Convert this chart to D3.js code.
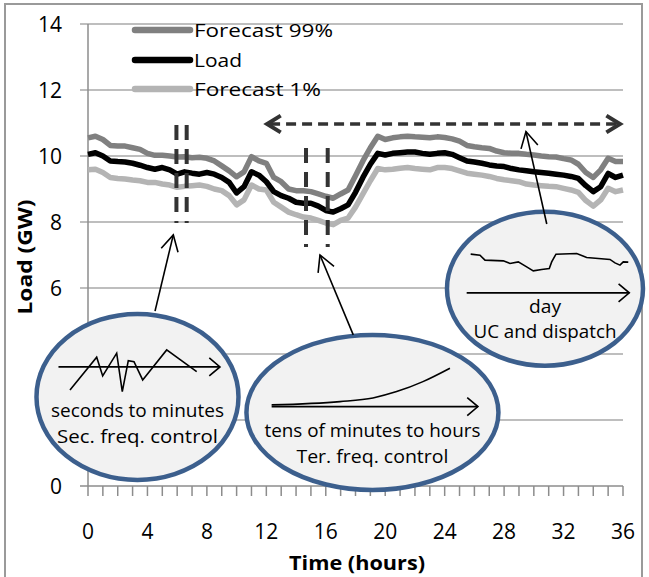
<!DOCTYPE html>
<html>
<head>
<meta charset="utf-8">
<script src="https://cdn.jsdelivr.net/npm/d3@7/dist/d3.min.js"></script>
<style>
  body { margin: 0; background: #fff; }
  svg { display: block; }
  text { font-family: "Open Sans", Lato, sans-serif; fill: #000; }
</style>
</head>
<body>
<div id="chart"></div>
<script>
// time axis (hours) and the three curves, GW
var hours = [0,0.5,1,1.5,2,2.5,3,3.5,4,4.5,5,5.5,6,6.5,7,7.5,8,8.5,9,9.5,
  10,10.5,11,11.5,12,12.5,13,13.5,14,14.5,15,15.5,16,16.5,17,17.5,18,18.5,19,19.5,
  20,20.5,21,21.5,22,22.5,23,23.5,24,24.5,25,25.5,26,26.5,27,27.5,28,28.5,29,29.5,
  30,30.5,31,31.5,32,32.5,33,33.5,34,34.5,35,35.5,36];
var load = [10.05,10.10,10.00,9.85,9.83,9.82,9.78,9.72,9.65,9.60,9.65,9.58,9.45,9.52,9.48,9.45,9.50,9.45,9.35,9.20,
  8.88,9.07,9.52,9.42,9.22,8.92,8.80,8.72,8.60,8.57,8.57,8.48,8.35,8.30,8.40,8.52,8.90,9.35,9.75,10.08,
  10.03,10.08,10.10,10.12,10.12,10.08,10.05,10.08,10.10,10.05,9.95,9.85,9.82,9.78,9.73,9.70,9.68,9.62,9.58,9.55,
  9.52,9.50,9.48,9.45,9.42,9.38,9.32,9.10,8.92,9.07,9.47,9.35,9.42];
var forecast99 = [10.55,10.60,10.50,10.32,10.30,10.30,10.25,10.20,10.08,10.02,10.02,10.00,9.97,9.98,9.95,9.96,9.93,9.85,9.70,9.55,
  9.37,9.52,9.98,9.85,9.78,9.35,9.22,9.00,8.95,8.95,8.92,8.85,8.78,8.72,8.85,8.97,9.40,9.85,10.25,10.60,
  10.50,10.55,10.58,10.60,10.58,10.57,10.55,10.58,10.56,10.52,10.45,10.32,10.28,10.25,10.23,10.15,10.10,10.08,10.08,10.05,
  10.03,10.00,9.98,9.97,9.92,9.88,9.75,9.50,9.35,9.58,9.93,9.83,9.83];
var forecast1 = [9.58,9.60,9.50,9.35,9.32,9.30,9.27,9.25,9.20,9.20,9.15,9.12,9.05,9.08,9.10,9.12,9.08,9.00,8.95,8.80,
  8.52,8.67,9.12,9.00,8.97,8.60,8.45,8.30,8.22,8.15,8.12,8.05,7.97,7.92,8.05,8.12,8.45,8.85,9.25,9.62,
  9.58,9.60,9.63,9.65,9.62,9.60,9.58,9.65,9.65,9.62,9.55,9.48,9.45,9.42,9.38,9.32,9.28,9.25,9.22,9.15,
  9.12,9.10,9.08,9.07,9.02,8.97,8.90,8.65,8.48,8.67,9.02,8.92,8.97];

var yTicks = [0, 2, 4, 6, 8, 10, 12, 14];
var yLabels = [0, 6, 8, 10, 12, 14];   // 2 and 4 sit under the bubble
var xLabels = [0, 4, 8, 12, 16, 20, 24, 28, 32, 36];
var hourTicks = d3.range(0, 37, 1);

var seriesNames = ["Forecast 99%", "Load", "Forecast 1%"];
var seriesValues = [forecast99, load, forecast1];
var seriesColors = ["#808080", "#000000", "#b4b4b4"];
var legendWidths = [139, 48, 127];

var W = 649, H = 577;
var x = d3.scaleLinear().domain([0, 36]).range([88, 623]);
var y = d3.scaleLinear().domain([0, 14]).range([486, 24]);

var svg = d3.select("#chart").append("svg")
  .attr("width", W)
  .attr("height", H);

// outer frame
svg.append("rect")
  .attr("x", 5).attr("y", 4)
  .attr("width", 637).attr("height", 590)
  .attr("fill", "#fff")
  .attr("stroke", "#9a9a9a")
  .attr("stroke-width", 2);

// gridlines + y ticks
svg.selectAll(".grid")
  .data(yTicks)
  .enter().append("line")
  .attr("x1", 80).attr("x2", x(36))
  .attr("y1", d => y(d)).attr("y2", d => y(d))
  .attr("stroke", d => d === 0 ? "#8c8c8c" : "#a8a8a8")
  .attr("stroke-width", 1.5);

svg.append("line")
  .attr("x1", x(0)).attr("x2", x(0))
  .attr("y1", y(14)).attr("y2", y(0))
  .attr("stroke", "#8c8c8c")
  .attr("stroke-width", 1.5);

svg.selectAll(".htick")
  .data(hourTicks)
  .enter().append("line")
  .attr("x1", d => x(d)).attr("x2", d => x(d))
  .attr("y1", y(0)).attr("y2", y(0) + 10)
  .attr("stroke", "#8c8c8c")
  .attr("stroke-width", 1.5);

svg.selectAll(".ylab")
  .data(yLabels)
  .enter().append("text")
  .attr("x", 62)
  .attr("y", d => y(d) + 7.5)
  .attr("text-anchor", "end")
  .style("font-size", "21px")
  .text(d => d);

svg.selectAll(".xlab")
  .data(xLabels)
  .enter().append("text")
  .attr("x", d => x(d))
  .attr("y", 538.5)
  .attr("text-anchor", "middle")
  .style("font-size", "21px")
  .text(d => d);

svg.append("text")
  .attr("x", 357).attr("y", 570)
  .attr("text-anchor", "middle")
  .attr("textLength", 136)
  .attr("lengthAdjust", "spacingAndGlyphs")
  .style("font-size", "19px")
  .style("font-weight", "bold")
  .text("Time (hours)");

svg.append("text")
  .attr("transform", "translate(32,257) rotate(-90)")
  .attr("text-anchor", "middle")
  .attr("textLength", 115)
  .attr("lengthAdjust", "spacingAndGlyphs")
  .style("font-size", "19px")
  .style("font-weight", "bold")
  .text("Load (GW)");

// the three curves
var line = d3.line()
  .x((d, i) => x(hours[i]))
  .y(d => y(d));

[0, 2, 1].forEach(function(k) {
  svg.append("path")
    .datum(seriesValues[k])
    .attr("d", line)
    .attr("fill", "none")
    .attr("stroke", seriesColors[k])
    .attr("stroke-width", 5.5)
    .attr("stroke-linejoin", "round");
});

// legend
var legend = svg.selectAll(".leg")
  .data(seriesNames)
  .enter().append("g")
  .attr("transform", (d, i) => "translate(0," + [30, 60, 89][i] + ")");
legend.append("line")
  .attr("x1", 135).attr("x2", 190)
  .attr("stroke", (d, i) => seriesColors[i])
  .attr("stroke-width", 6.5)
  .attr("stroke-linecap", "round");
legend.append("text")
  .attr("x", 194).attr("y", 6.5)
  .attr("textLength", (d, i) => legendWidths[i])
  .attr("lengthAdjust", "spacingAndGlyphs")
  .style("font-size", "19px")
  .text(d => d);

// dashed markers: pairs of vertical lines (time, top GW, bottom GW)
var dashPairs = [
  [5.95, 10.94, 7.97], [6.64, 10.94, 7.97],
  [14.67, 10.24, 7.24], [16.13, 10.24, 7.24]
];
svg.selectAll(".vdash")
  .data(dashPairs)
  .enter().append("line")
  .attr("x1", d => x(d[0])).attr("x2", d => x(d[0]))
  .attr("y1", d => y(d[1])).attr("y2", d => y(d[2]))
  .attr("stroke", "#333")
  .attr("stroke-width", 4)
  .attr("stroke-dasharray", "15,9");

function chevron(g, tx, ty, ang, len, spread, w, col) {
  var a1 = ang + Math.PI - spread, a2 = ang + Math.PI + spread;
  g.append("path")
    .attr("d", "M" + (tx + len * Math.cos(a1)) + "," + (ty + len * Math.sin(a1)) +
      "L" + tx + "," + ty +
      "L" + (tx + len * Math.cos(a2)) + "," + (ty + len * Math.sin(a2)))
    .attr("fill", "none")
    .attr("stroke", col)
    .attr("stroke-width", w)
    .attr("stroke-linecap", "butt")
    .attr("stroke-linejoin", "miter");
}

// double-headed dashed arrow for "day"
var dayArrow = [12.05, 35.8, 10.97];
svg.append("line")
  .attr("x1", x(dayArrow[0]) + 3).attr("x2", x(dayArrow[1]) - 3)
  .attr("y1", y(dayArrow[2])).attr("y2", y(dayArrow[2]))
  .attr("stroke", "#333")
  .attr("stroke-width", 3.5)
  .attr("stroke-dasharray", "10,6");
chevron(svg, x(dayArrow[0]), y(dayArrow[2]), Math.PI, 16, 0.55, 4, "#333");
chevron(svg, x(dayArrow[1]), y(dayArrow[2]), 0, 16, 0.55, 4, "#333");

// bubbles: centre (hours, GW), radii px, sketch, texts
var bubbles = [
  { t: 3.33, v: 2.70, rx: 101, ry: 83,
    arrow: [-79, 82.5, -30],
    sketch: [[-67.5,-7],[-40.8,-39.7],[-34.8,-21],[-20.8,-43.7],[-15.2,-5.3],[-9.2,-36.3],
      [-3.5,-35.3],[5.2,-17],[29.2,-47],[59.2,-25.3]],
    curve: false,
    lines: ["seconds to minutes", "Sec. freq. control"],
    widths: [173, 161], base: [19.7, 45.7] },
  { t: 19.14, v: 2.23, rx: 126, ry: 77.5,
    arrow: [-100.8, 105.5, -5.8],
    sketch: [[-100.8,-7.5],[-32.5,-10.8],[0.5,-14.5],[24.2,-20.8],[50.5,-30.8],[77.5,-44.2]],
    curve: true,
    lines: ["tens of minutes to hours", "Ter. freq. control"],
    widths: [216, 152], base: [24.2, 50.2] },
  { t: 30.75, v: 5.98, rx: 98, ry: 77,
    arrow: [-78.3, 84.3, 4.2],
    sketch: [[-74.3,-34.5],[-65,-33.5],[-60,-28.5],[-41.7,-27.8],[-35,-25.2],[-26.7,-26.8],
      [-18.3,-21.8],[-11.7,-17.8],[-3.3,-19.2],[4.3,-20.2],[6.7,-26.8],[11,-34.5],[31.7,-35.2],
      [41.7,-31.2],[65,-29.2],[70,-25.8],[75,-23.5],[78.3,-26.8],[83.3,-26.5]],
    curve: false,
    lines: ["day", "UC and dispatch"],
    widths: [32, 143], base: [24.2, 49.8] }
];

bubbles.forEach(function(b) {
  var g = svg.append("g")
    .attr("transform", "translate(" + x(b.t) + "," + y(b.v) + ")");
  g.append("ellipse")
    .attr("rx", b.rx).attr("ry", b.ry)
    .attr("fill", "#f2f2f2")
    .attr("stroke", "#3c5f8d")
    .attr("stroke-width", 4.5);
  g.append("line")
    .attr("x1", b.arrow[0]).attr("x2", b.arrow[1])
    .attr("y1", b.arrow[2]).attr("y2", b.arrow[2])
    .attr("stroke", "#000").attr("stroke-width", 1.6);
  chevron(g, b.arrow[1], b.arrow[2], 0, 14, 0.7, 1.6, "#000");
  g.append("path")
    .attr("d", d3.line().curve(b.curve ? d3.curveMonotoneX : d3.curveLinear)(b.sketch))
    .attr("fill", "none")
    .attr("stroke", "#000")
    .attr("stroke-width", 1.6);
  b.lines.forEach(function(s, i) {
    g.append("text")
      .attr("x", 0).attr("y", b.base[i])
      .attr("text-anchor", "middle")
      .attr("textLength", b.widths[i])
      .attr("lengthAdjust", "spacingAndGlyphs")
      .style("font-size", "18px")
      .text(s);
  });
});

// pointers from bubbles to the markers: [t0, v0, t1, v1]
var pointers = [
  [4.51, 5.30, 5.74, 7.61],
  [17.85, 4.58, 15.61, 7.00],
  [30.87, 7.94, 29.47, 10.74]
];
pointers.forEach(function(p) {
  var x0 = x(p[0]), y0 = y(p[1]), x1 = x(p[2]), y1 = y(p[3]);
  svg.append("line")
    .attr("x1", x0).attr("y1", y0).attr("x2", x1).attr("y2", y1)
    .attr("stroke", "#000").attr("stroke-width", 1.6);
  chevron(svg, x1, y1, Math.atan2(y1 - y0, x1 - x0), 18, 0.5, 1.6, "#000");
});
</script>
</body>
</html>
